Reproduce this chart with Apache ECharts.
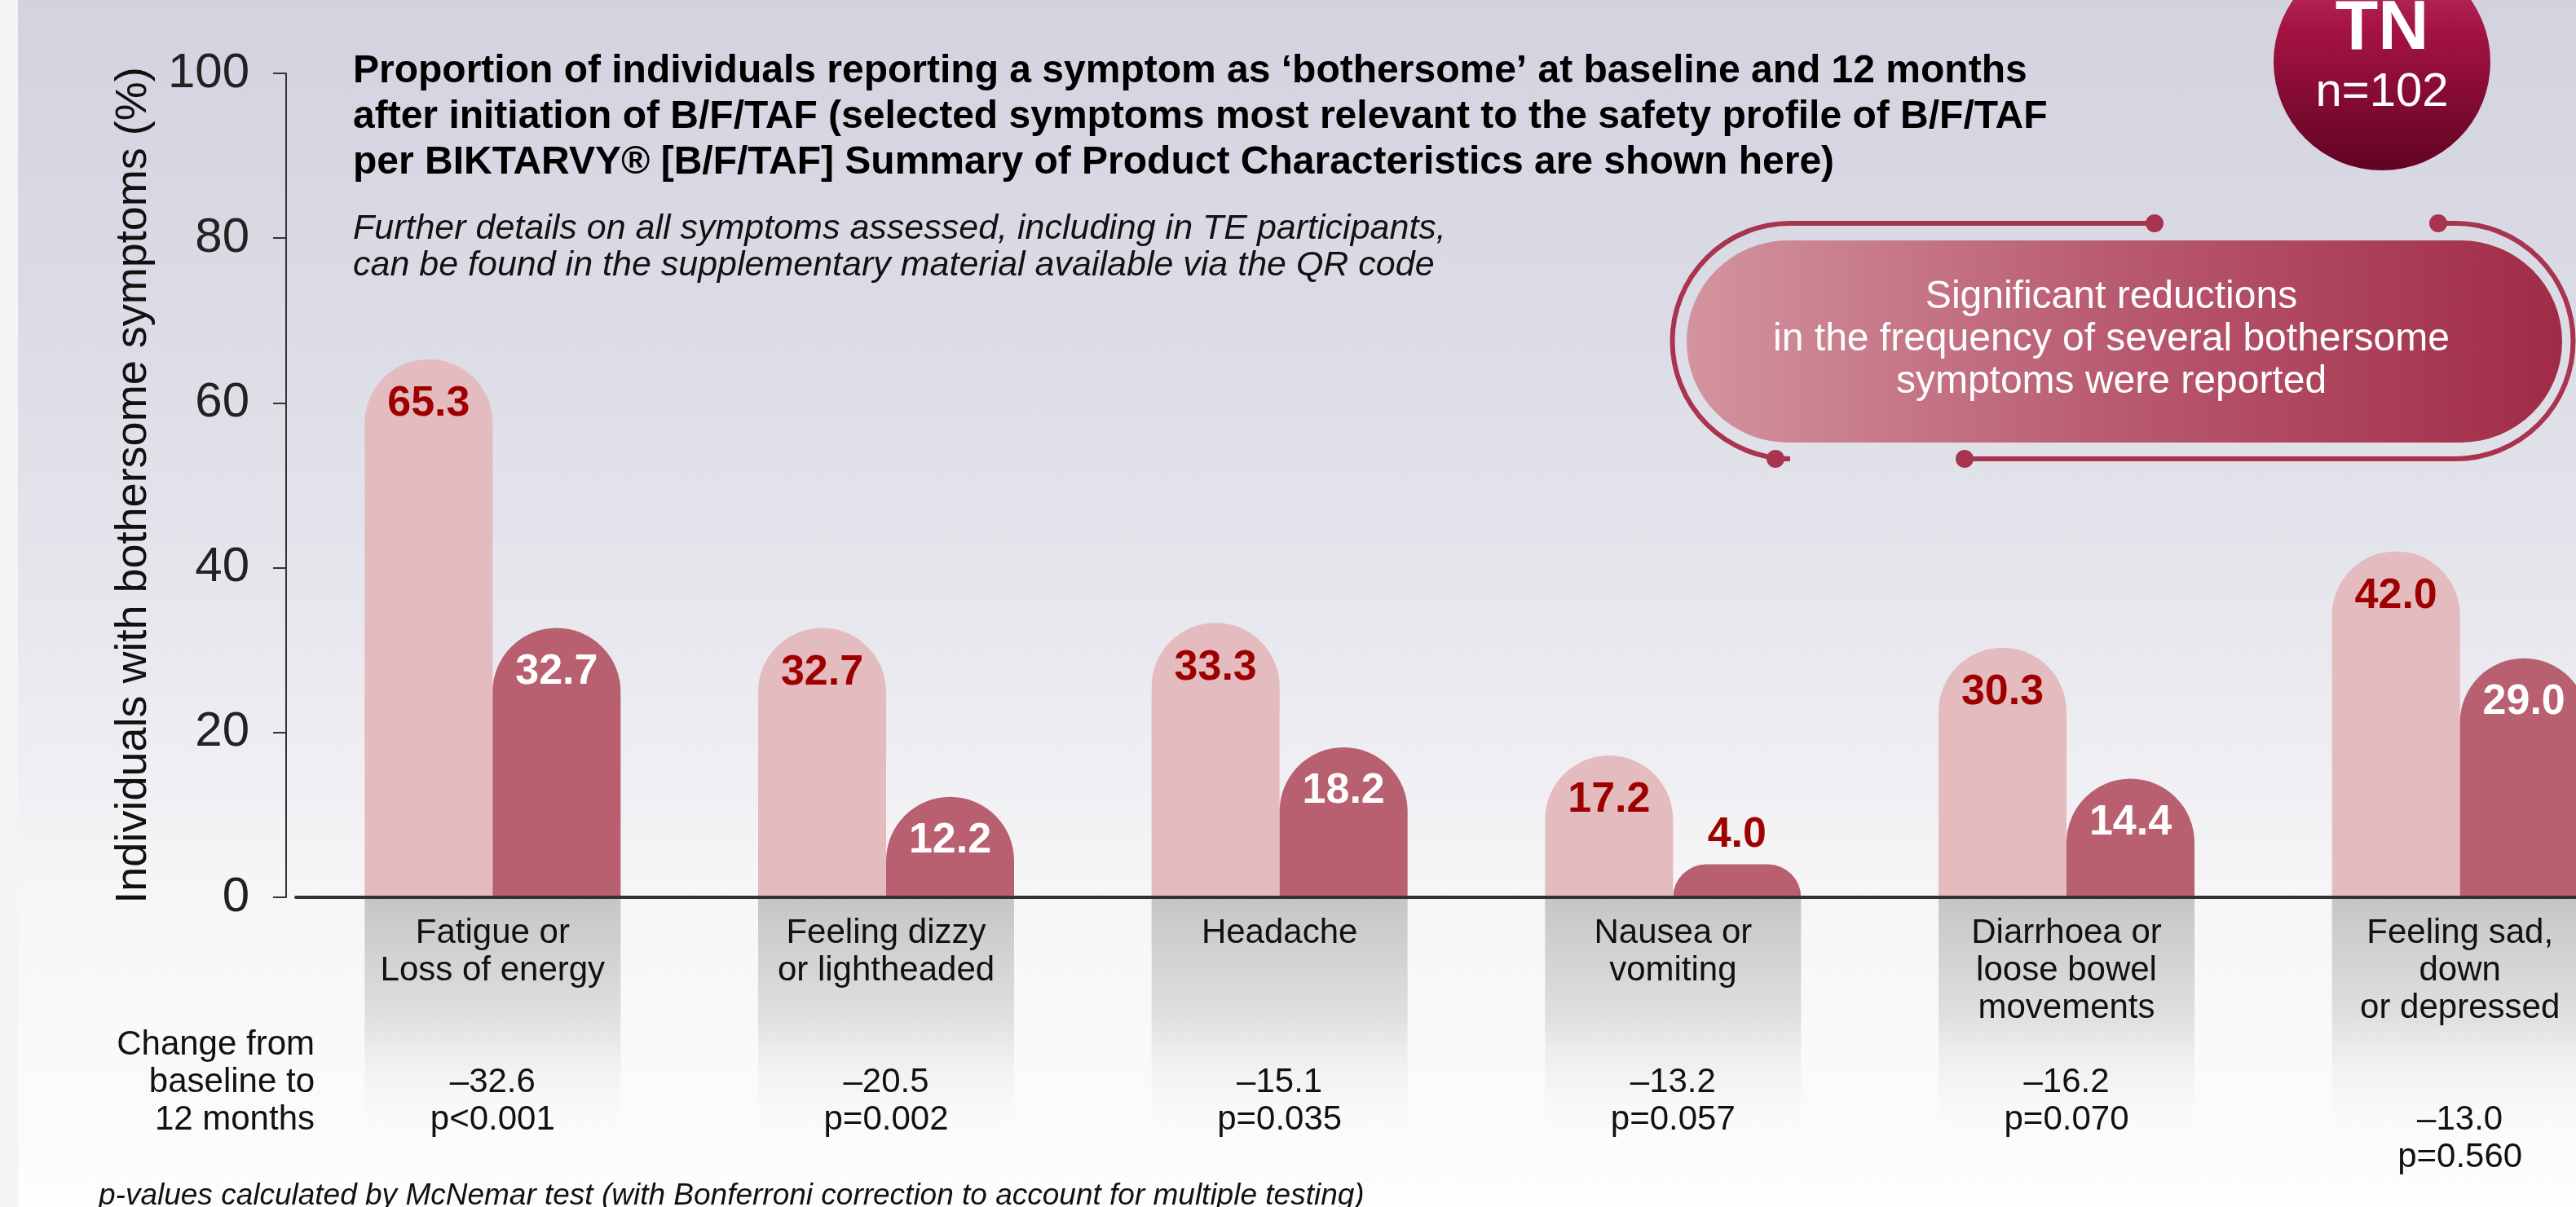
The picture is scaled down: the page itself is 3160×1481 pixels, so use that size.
<!DOCTYPE html>
<html lang="en">
  <head>
    <meta charset="UTF-8" />
    <title>Bothersome symptoms (TN)</title>
    <script src="https://cdn.jsdelivr.net/npm/echarts@6/dist/echarts.min.js"></script>
    <style>
      html,
      body {
        margin: 0;
        padding: 0;
        width: 3160px;
        height: 1481px;
        overflow: hidden;
        background: #f4f4f7;
      }
      #bg {
        position: absolute;
        left: 22px;
        top: 0;
        right: 0;
        bottom: 0;
        background: linear-gradient(to bottom, #d2d3df 0%, #dcdde6 30%, #e9e9ef 55%, #f6f6f8 74%, #fdfdfd 100%);
      }
      #chart {
        position: absolute;
        left: 0;
        top: 0;
        width: 3160px;
        height: 1481px;
      }
    </style>
  </head>
  <body>
    <div id="bg"></div>
    <div id="chart"></div>
    <script>
      const categories = [
        "Fatigue or\nLoss of energy",
        "Feeling dizzy\nor lightheaded",
        "Headache",
        "Nausea or\nvomiting",
        "Diarrhoea or\nloose bowel\nmovements",
        "Feeling sad,\ndown\nor depressed",
      ];
      const baseline = [65.3, 32.7, 33.3, 17.2, 30.3, 42.0];
      const month12 = [32.7, 12.2, 18.2, 4.0, 14.4, 29.0];
      const changes = ["–32.6", "–20.5", "–15.1", "–13.2", "–16.2", "–13.0"];
      const pValues = ["p<0.001", "p=0.002", "p=0.035", "p=0.057", "p=0.070", "p=0.560"];
      const yMin = 0;
      const yMax = 100;
      const yStep = 20;

      const font = "'Liberation Sans', Arial, sans-serif";
      const narrow = "'Liberation Sans Narrow', 'Arial Narrow', 'Liberation Sans', sans-serif";
      const darkRed = "#9e0000";
      const wine = "#a8344f";
      const barWidth = 157;

      const chart = echarts.init(document.getElementById("chart"), null, { renderer: "canvas" });

      // short bars get their label above the bar
      const followData = month12.map((v) => {
        if (v < 8) {
          return {
            value: v,
            label: { position: "top", distance: 10, color: darkRed },
          };
        }
        return v;
      });

      // change rows sit in the grey column under each group, last one is a line lower
      const shadeData = changes.map((c, i) => {
        const item = { value: 1 };
        if (i === categories.length - 1) {
          item.label = { offset: [0, 46] };
        }
        return item;
      });

      const line = (x1, y1, x2, y2) => ({
        type: "line",
        shape: { x1, y1, x2, y2 },
        style: { stroke: wine, lineWidth: 6 },
      });
      const arc = (cx, cy, r, a0, a1) => ({
        type: "arc",
        shape: { cx, cy, r, startAngle: a0, endAngle: a1, clockwise: true },
        style: { stroke: wine, lineWidth: 6, fill: null },
      });
      const dot = (cx, cy) => ({ type: "circle", shape: { cx, cy, r: 11 }, style: { fill: wine } });

      const option = {
        animation: false,
        grid: [
          { left: 363, width: 2896, top: 90, height: 1011, outerBoundsMode: "none", containLabel: false },
          { left: 363, width: 2896, top: 1103, height: 295, outerBoundsMode: "none", containLabel: false },
        ],
        xAxis: [
          {
            type: "category",
            gridIndex: 0,
            data: categories,
            z: 5,
            axisLine: { lineStyle: { color: "#333", width: 4 } },
            axisTick: { show: false },
            axisLabel: {
              fontFamily: font,
              fontSize: 42,
              lineHeight: 46,
              color: "#111",
              margin: 21,
              interval: 0,
            },
          },
          {
            type: "category",
            gridIndex: 1,
            data: categories,
            show: false,
          },
        ],
        yAxis: [
          {
            type: "value",
            gridIndex: 0,
            min: yMin,
            max: yMax,
            interval: yStep,
            offset: 12,
            name: "Individuals with bothersome symptoms (%)",
            nameLocation: "middle",
            nameGap: 160,
            nameTextStyle: { fontFamily: font, fontSize: 54, color: "#111" },
            axisLine: { show: true, lineStyle: { color: "#333", width: 2 } },
            axisTick: { show: true, length: 16, lineStyle: { color: "#333", width: 2 } },
            splitLine: { show: false },
            axisLabel: { fontFamily: narrow, fontSize: 60, color: "#222", margin: 45 },
          },
          {
            type: "value",
            gridIndex: 1,
            min: 0,
            max: 1,
            inverse: true,
            show: false,
          },
        ],
        series: [
          {
            name: "Baseline",
            type: "bar",
            xAxisIndex: 0,
            yAxisIndex: 0,
            data: baseline,
            barWidth: barWidth,
            barGap: "0%",
            itemStyle: { color: "#e4bbbe", borderRadius: [78.5, 78.5, 0, 0] },
            label: {
              show: true,
              position: "insideTop",
              distance: 29,
              fontFamily: font,
              fontWeight: "bold",
              fontSize: 52,
              lineHeight: 52,
              color: darkRed,
              formatter: (p) => p.value.toFixed(1),
            },
          },
          {
            name: "12 months",
            type: "bar",
            xAxisIndex: 0,
            yAxisIndex: 0,
            data: followData,
            barWidth: barWidth,
            barGap: "0%",
            itemStyle: { color: "#b85f70", borderRadius: [78.5, 78.5, 0, 0] },
            label: {
              show: true,
              position: "insideTop",
              distance: 28,
              fontFamily: font,
              fontWeight: "bold",
              fontSize: 52,
              lineHeight: 52,
              color: "#fff",
              formatter: (p) => p.value.toFixed(1),
            },
          },
          {
            name: "Change",
            type: "bar",
            xAxisIndex: 1,
            yAxisIndex: 1,
            z: 1,
            data: shadeData,
            barWidth: barWidth * 2,
            itemStyle: {
              color: new echarts.graphic.LinearGradient(0, 0, 0, 1, [
                { offset: 0, color: "#c6c6c6" },
                { offset: 0.5, color: "#e0e0e0" },
                { offset: 1, color: "rgba(250,250,250,0)" },
              ]),
            },
            label: {
              show: true,
              position: ["50%", 202],
              align: "center",
              verticalAlign: "top",
              fontFamily: font,
              fontSize: 42,
              lineHeight: 46,
              color: "#111",
              formatter: (p) => changes[p.dataIndex] + "\n" + pValues[p.dataIndex],
            },
          },
        ],
        graphic: [
          {
            type: "text",
            x: 433,
            y: 60,
            style: {
              text:
                "Proportion of individuals reporting a symptom as ‘bothersome’ at baseline and 12 months\n" +
                "after initiation of B/F/TAF (selected symptoms most relevant to the safety profile of B/F/TAF\n" +
                "per BIKTARVY® [B/F/TAF] Summary of Product Characteristics are shown here)",
              font: "bold 48px " + font,
              lineHeight: 56,
              fill: "#000",
              verticalAlign: "top",
            },
          },
          {
            type: "text",
            x: 433,
            y: 259,
            style: {
              text:
                "Further details on all symptoms assessed, including in TE participants,\n" +
                "can be found in the supplementary material available via the QR code",
              font: "italic 43px " + font,
              lineHeight: 45,
              fill: "#111",
              verticalAlign: "top",
            },
          },
          {
            type: "text",
            x: 386,
            y: 1328,
            style: {
              text: "Change from\nbaseline to\n12 months",
              font: "42px " + font,
              lineHeight: 46,
              fill: "#111",
              align: "right",
              verticalAlign: "middle",
            },
          },
          {
            type: "text",
            x: 121,
            y: 1468,
            style: {
              text: "p-values calculated by McNemar test (with Bonferroni correction to account for multiple testing)",
              font: "italic 37px " + font,
              fill: "#111",
              verticalAlign: "middle",
            },
          },
          // TN badge
          {
            type: "circle",
            shape: { cx: 2922, cy: 76, r: 133 },
            style: {
              fill: new echarts.graphic.LinearGradient(0, 0, 0, 1, [
                { offset: 0, color: "#bd3a66" },
                { offset: 0.35, color: "#a51343" },
                { offset: 1, color: "#610322" },
              ]),
            },
          },
          {
            type: "text",
            x: 2922,
            y: 36,
            style: { text: "TN", font: "bold 86px " + font, fill: "#fff", align: "center", verticalAlign: "middle" },
          },
          {
            type: "text",
            x: 2922,
            y: 114,
            style: { text: "n=102", font: "58px " + font, fill: "#fff", align: "center", verticalAlign: "middle" },
          },
          // callout bracket
          line(2196, 274, 2643, 274),
          arc(2196, 418.5, 144.5, Math.PI / 2, (3 * Math.PI) / 2),
          line(2180, 563, 2196, 563),
          line(2991, 274, 3012, 274),
          arc(3012, 418.5, 144.5, -Math.PI / 2, Math.PI / 2),
          line(2410, 563, 3012, 563),
          dot(2643, 274),
          dot(2991, 274),
          dot(2178, 563),
          dot(2410, 563),
          {
            type: "rect",
            shape: { x: 2069, y: 295, width: 1074, height: 248, r: 124 },
            style: {
              fill: new echarts.graphic.LinearGradient(0, 0, 1, 0, [
                { offset: 0, color: "#d3949f" },
                { offset: 0.5, color: "#b8596f" },
                { offset: 1, color: "#a02b47" },
              ]),
            },
          },
          {
            type: "text",
            x: 2590,
            y: 417,
            style: {
              text: "Significant reductions\nin the frequency of several bothersome\nsymptoms were reported",
              font: "48px " + font,
              lineHeight: 52,
              fill: "#fff",
              align: "center",
              verticalAlign: "middle",
            },
          },
        ],
      };

      chart.setOption(option);
    </script>
  </body>
</html>
